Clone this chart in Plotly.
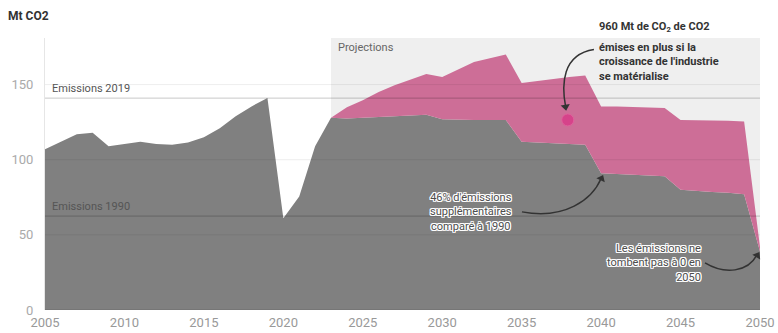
import plotly.graph_objects as go

# ---------------- data ----------------
years = list(range(2005, 2051))
baseline = [107, 112, 117, 118, 109, 110.5, 112, 110.5, 110, 111.5,
            115, 121, 129, 135.5, 141, 61, 75.5, 109, 128, 127.5,
            128, 128.5, 129, 129.5, 130, 127, 126.5, 126.5, 126.5, 126.5,
            112, 111.5, 111, 110.5, 110, 91, 90.5, 90, 89.5, 89,
            80, 79, 78.5, 78, 77, 39]
proj_years = list(range(2023, 2051))
growth_total = [128, 135, 139.5, 145, 149.5, 153.5, 157, 155, 160, 165,
                167.5, 170, 151, 152.5, 154, 155, 156, 135.5, 135.5, 135,
                135, 134.5, 126.5, 126.5, 126, 126, 125.5, 42]
proj_baseline = baseline[years.index(2023):]

ref_labels = ["Emissions 2019", "Emissions 1990"]
ref_values = [141, 62.5]
grid_values = [50, 100, 150]
x_ticks = list(range(2005, 2051, 5))
y_ticks = [0, 50, 100, 150]
proj_start, proj_end = 2023, 2050
dot_year, dot_value = [2037.9], [126.5]

# arrow heads (position + direction in degrees)
head_x = [2037.76, 2040.02, 2049.83]
head_y = [135.3, 87.5, 36.3]
head_angle = [171, 25, 32]

GRAY = "#808080"
PINK = "#cd6e97"
FONT = "Roboto"
halo = ("1px 1px 0 #fff, -1px -1px 0 #fff, 1px -1px 0 #fff, -1px 1px 0 #fff, "
        "0 1px 0 #fff, 0 -1px 0 #fff, 1px 0 0 #fff, -1px 0 0 #fff")

fig = go.Figure()
fig.add_trace(go.Scatter(x=years, y=baseline, mode="lines", line=dict(width=0, color=GRAY),
                         fill="tozeroy", fillcolor=GRAY, hoverinfo="skip"))
fig.add_trace(go.Scatter(x=proj_years, y=proj_baseline, mode="lines",
                         line=dict(width=0, color=GRAY), hoverinfo="skip"))
fig.add_trace(go.Scatter(x=proj_years, y=growth_total, mode="lines", line=dict(width=0, color=PINK),
                         fill="tonexty", fillcolor=PINK, hoverinfo="skip"))
fig.add_trace(go.Scatter(x=dot_year, y=dot_value, mode="markers",
                         marker=dict(size=12, color="#d6438a", line=dict(width=1, color="#e0609c")),
                         hoverinfo="skip", cliponaxis=False))

shapes = []
shapes.append(dict(type="rect", xref="x", yref="paper", x0=proj_start, x1=proj_end, y0=0, y1=1,
                   fillcolor="#efefef", line=dict(width=0), layer="below"))
for g in grid_values:
    shapes.append(dict(type="line", xref="paper", yref="y", x0=0, x1=1, y0=g, y1=g,
                       line=dict(color="rgba(0,0,0,0.07)", width=1), layer="above"))
shapes.append(dict(type="line", xref="paper", yref="y", x0=0, x1=1, y0=0, y1=0,
                   line=dict(color="rgba(0,0,0,0.15)", width=1), layer="above"))
for v in ref_values:
    shapes.append(dict(type="line", xref="paper", yref="y", x0=0, x1=1, y0=v, y1=v,
                       line=dict(color="rgba(0,0,0,0.22)", width=1), layer="above"))

# curved arrows (cubic bezier in data coordinates)
arrow_paths = [
    "M 2039.55,173.3 C 2037.54,170 2037.5,150 2037.77,135",
    "M 2035.02,65.3 C 2037.72,60 2039.42,73.3 2040.0,87.5",
    "M 2046.54,31.3 C 2047.79,23.3 2049.24,25.3 2049.8,36.5",
]
for p in arrow_paths:
    shapes.append(dict(type="path", xref="x", yref="y", path=p,
                       line=dict(color="#333", width=1.5), layer="above"))

fig.add_trace(go.Scatter(x=head_x, y=head_y, mode="markers",
                         marker=dict(symbol="triangle-up", size=8, color="#333",
                                     angle=head_angle, line=dict(width=0)),
                         hoverinfo="skip", cliponaxis=False))

ann = []
for lab, v in zip(ref_labels, ref_values):
    ann.append(dict(x=2005.3, y=v, xref="x", yref="y", text=lab, showarrow=False,
                    xanchor="left", yanchor="bottom", yshift=1,
                    font=dict(family=FONT, size=11, color="#555")))
ann.append(dict(x=proj_start + 0.3, y=174.7, xref="x", yref="y", text="Projections", showarrow=False,
                xanchor="left", yanchor="middle", font=dict(family=FONT, size=11, color="#666")))
ann.append(dict(x=2039.74, y=1.04, xref="x", yref="paper", text="<b>960 Mt de CO<sub>2</sub> de CO2</b>",
                showarrow=False, xanchor="left", yanchor="middle", align="left",
                font=dict(family=FONT, size=11, color="#333")))
ann.append(dict(x=2039.74, y=165, xref="x", yref="y",
                text="<b>émises en plus si la<br>croissance de l'industrie<br>se matérialise</b>",
                showarrow=False, xanchor="left", yanchor="middle", align="left",
                font=dict(family=FONT, size=11, color="#333")))
ann.append(dict(x=2031.8, y=65.3, xref="x", yref="y",
                text="46% d'émissions<br>supplémentaires<br>comparé à 1990",
                showarrow=False, xanchor="center", yanchor="middle", align="center",
                font=dict(family=FONT, size=11, color="#4d4d4d", shadow=halo)))
ann.append(dict(x=2046.4, y=31.3, xref="x", yref="y",
                text="Les émissions ne<br>tombent pas à 0 en<br>2050",
                showarrow=False, xanchor="right", yanchor="middle", align="right",
                font=dict(family=FONT, size=11, color="#4d4d4d", shadow=halo)))

fig.update_layout(
    width=778, height=333,
    margin=dict(l=45, r=18, t=38, b=23),
    paper_bgcolor="white", plot_bgcolor="white",
    showlegend=False,
    title=dict(text="<b>Mt CO2</b>", x=8 / 778, xanchor="left", xref="container",
               y=1 - 16 / 333, yanchor="middle", yref="container",
               font=dict(family=FONT, size=12, color="#333")),
    font=dict(family=FONT),
    xaxis=dict(range=[2005, 2050], tickvals=x_ticks, showgrid=False, zeroline=False,
               showline=False, ticks="", ticklabelstandoff=3, automargin=False,
               tickfont=dict(family=FONT, size=13, color="#999")),
    yaxis=dict(range=[0, 181], tickvals=y_ticks, showgrid=False, zeroline=False,
               showline=True, linecolor="#e6e6e6", linewidth=1, ticks="", ticklabelstandoff=8,
               automargin=False, tickfont=dict(family=FONT, size=13, color="#aaa")),
    shapes=shapes, annotations=ann,
)

fig.write_html("out.html")
